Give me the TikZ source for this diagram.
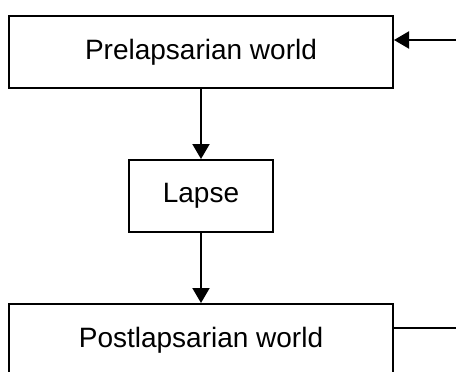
\documentclass[tikz,border=0pt]{standalone}
\usepackage{fontspec}
\setmainfont{Liberation Sans}
\usetikzlibrary{arrows.meta}
\tikzstyle{sheet} = [x = 1pt, y = -1pt]
\tikzstyle{worldBox} = [draw, line width = 2pt, inner sep = 0pt, minimum height = 72pt, font = \fontsize{28}{33}\selectfont]
\tikzstyle{flowLine} = [line width = 2pt, -{Triangle[length = 15pt, width = 17pt]}]

\begin{document}
\begin{tikzpicture}[sheet]
      \path [use as bounding box, clip] (0, 0) rectangle (456, 372);
      \fill [white] (0, 0) rectangle (456, 372);

      \node [worldBox, minimum width = 384pt] (pre) at (201, 52) {Prelapsarian world};
      \node [worldBox, minimum width = 144pt] (lapse) at (201, 196) {Lapse};
      \node [worldBox, minimum width = 384pt] (post) at (201, 340) {Postlapsarian world};
      \coordinate (turn) at (480, 0);

      \draw [flowLine] (pre) -- (lapse);
      \draw [flowLine] (lapse) -- (post);
      \draw [flowLine] ([yshift = 12pt] post.east) -| (turn) |- ([yshift = 12pt] pre.east);
    \end{tikzpicture}
\end{document}
